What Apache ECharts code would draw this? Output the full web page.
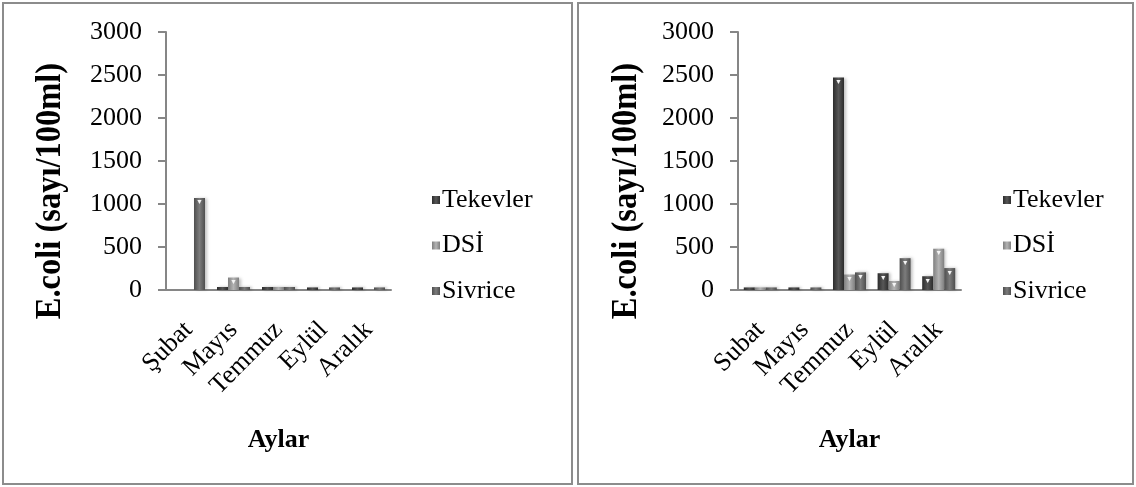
<!DOCTYPE html>
<html>
<head>
<meta charset="utf-8">
<style>
  html, body { margin: 0; padding: 0; background: #fff; }
  #chart { width: 1136px; height: 487px; }
</style>
<script src="https://cdn.jsdelivr.net/npm/echarts@6/dist/echarts.min.js"></script>
</head>
<body>
<div id="chart"></div>
<script>
// Categories (months) for each panel
const monthsLeft = ['Şubat', 'Mayıs', 'Temmuz', 'Eylül', 'Aralık'];
const monthsRight = ['Subat', 'Mayıs', 'Temmuz', 'Eylül', 'Aralık'];
const seriesNames = ['Tekevler', 'DSİ', 'Sivrice'];

// E.coli counts (sayı/100ml), left panel
const tekevlerLeft = [0, 35, 35, 30, 30];
const dsiLeft = [0, 145, 35, 0, 0];
const sivriceLeft = [1070, 35, 35, 30, 30];

// E.coli counts (sayı/100ml), right panel
const tekevlerRight = [30, 30, 2470, 195, 160];
const dsiRight = [30, 0, 180, 105, 480];
const sivriceRight = [30, 30, 205, 370, 255];

// Value axis ticks
const yMin = 0, yMax = 3000, yStep = 500;

const SERIF = "'Liberation Serif', 'Times New Roman', serif";

function shade(edge, mid) {
  return {
    type: 'linear', x: 0, y: 0, x2: 1, y2: 0,
    colorStops: [
      { offset: 0, color: edge },
      { offset: 0.5, color: mid },
      { offset: 1, color: edge }
    ]
  };
}
const fills = [
  shade('#2c2c2c', '#575757'),
  shade('#7f7f7f', '#b4b4b4'),
  shade('#4e4e4e', '#7c7c7c')
];

function barSeries(name, data, idx, axisIdx) {
  return {
    name: name,
    type: 'bar',
    xAxisIndex: axisIdx,
    yAxisIndex: axisIdx,
    data: data,
    barWidth: 11,
    barGap: '0%',
    itemStyle: {
      color: fills[idx],
      shadowColor: 'rgba(0,0,0,0.25)',
      shadowBlur: 3,
      shadowOffsetX: 2
    },
    label: {
      show: true,
      position: 'insideTop',
      distance: 1,
      color: '#f4f4f4',
      fontSize: 7,
      formatter: p => (p.value >= 90 ? '▼' : '')
    },
    emphasis: { disabled: true }
  };
}

function catAxis(idx, cats) {
  return {
    type: 'category',
    gridIndex: idx,
    data: cats,
    axisLine: { lineStyle: { color: '#868686', width: 2 } },
    axisTick: { length: 8, lineStyle: { color: '#868686', width: 2 } },
    axisLabel: { rotate: 45, margin: 36, color: '#000', fontFamily: SERIF, fontSize: 26, interval: 0 },
    name: 'Aylar',
    nameLocation: 'middle',
    nameGap: 137,
    nameTextStyle: { color: '#000', fontFamily: SERIF, fontSize: 26, fontWeight: 'bold' }
  };
}

function valAxis(idx) {
  return {
    type: 'value',
    gridIndex: idx,
    min: yMin, max: yMax, interval: yStep,
    axisLine: { show: true, lineStyle: { color: '#868686', width: 2 } },
    axisTick: { show: true, length: 8, lineStyle: { color: '#868686', width: 2 } },
    splitLine: { show: false },
    axisLabel: { margin: 24, color: '#000', fontFamily: SERIF, fontSize: 26, formatter: v => String(v) }
  };
}

function legendAt(left) {
  return {
    orient: 'vertical',
    left: left,
    top: 187,
    padding: 0,
    itemWidth: 8,
    itemHeight: 8,
    itemGap: 19.5,
    icon: 'rect',
    data: seriesNames,
    selectedMode: false,
    textStyle: { color: '#000', fontFamily: SERIF, fontSize: 26, lineHeight: 24, padding: [0, 0, 0, -3] }
  };
}

function yTitle(x) {
  return {
    type: 'text',
    x: x, y: 191,
    rotation: Math.PI / 2,
    scaleY: 1.1,
    style: {
      text: 'E.coli (sayı/100ml)',
      align: 'center', verticalAlign: 'middle',
      font: 'bold 32.5px ' + SERIF,
      fill: '#000'
    }
  };
}

const chart = echarts.init(document.getElementById('chart'), null, { renderer: 'canvas' });
chart.setOption({
  backgroundColor: '#fff',
  animation: false,
  grid: [
    { left: 166, right: 1136 - 391, top: 32, bottom: 487 - 290 },
    { left: 738, right: 1136 - 961, top: 32, bottom: 487 - 290 }
  ],
  xAxis: [catAxis(0, monthsLeft), catAxis(1, monthsRight)],
  yAxis: [valAxis(0), valAxis(1)],
  legend: [legendAt(432), legendAt(1003)],
  series: [
    barSeries(seriesNames[0], tekevlerLeft, 0, 0),
    barSeries(seriesNames[1], dsiLeft, 1, 0),
    barSeries(seriesNames[2], sivriceLeft, 2, 0),
    barSeries(seriesNames[0], tekevlerRight, 0, 1),
    barSeries(seriesNames[1], dsiRight, 1, 1),
    barSeries(seriesNames[2], sivriceRight, 2, 1)
  ],
  graphic: [
    { type: 'rect', shape: { x: 3, y: 3, width: 569, height: 481 }, style: { fill: 'none', stroke: '#8c8c8c', lineWidth: 2 } },
    { type: 'rect', shape: { x: 578, y: 3, width: 555, height: 481 }, style: { fill: 'none', stroke: '#8c8c8c', lineWidth: 2 } },
    yTitle(51),
    yTitle(627)
  ]
});
</script>
</body>
</html>
